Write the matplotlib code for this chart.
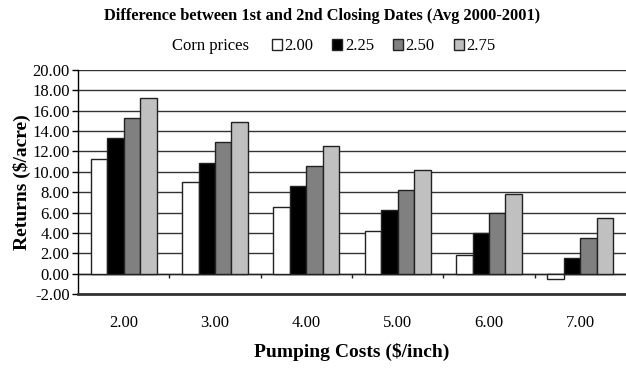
import numpy as np
import matplotlib.pyplot as plt

plt.rcParams['font.family'] = ['Liberation Serif', 'DejaVu Serif']

pump_costs = ['2.00', '3.00', '4.00', '5.00', '6.00', '7.00']
corn_prices = ['2.00', '2.25', '2.50', '2.75']
ret_200 = [11.3, 8.95, 6.54, 4.15, 1.86, -0.5]
ret_225 = [13.3, 10.9, 8.56, 6.24, 3.95, 1.54]
ret_250 = [15.3, 12.95, 10.6, 8.24, 5.91, 3.46]
ret_275 = [17.2, 14.87, 12.52, 10.16, 7.81, 5.49]

series = [ret_200, ret_225, ret_250, ret_275]
colors = ['white', 'black', '#808080', '#c0c0c0']

fig = plt.figure(figsize=(6.26, 3.68), dpi=100)
ax = fig.add_axes([0.1246, 0.201, 0.8754, 0.609])

x = np.arange(len(pump_costs))
w = 0.18
for k, vals in enumerate(series):
    ax.bar(x + (k - 1.5) * w, vals, w, color=colors[k], edgecolor='#222222',
           lw=1, label=corn_prices[k], zorder=3)

ax.set_xlim(-0.5, len(pump_costs) - 0.5)
ax.set_ylim(-2, 20)
yt = np.arange(-2, 21, 2)
ax.set_yticks(yt)
ax.set_yticklabels(['%.2f' % v for v in yt], fontsize=12)
ax.yaxis.grid(True, color='#333333', lw=1)
ax.set_axisbelow(True)
ax.tick_params(axis='y', length=4, width=1, pad=2)

ax.set_xticks(x)
ax.set_xticklabels(pump_costs, fontsize=12)
ax.tick_params(axis='x', length=0, pad=15)
# little marks between groups hanging under the zero line
ax.vlines(x[:-1] + 0.5, -0.45, 0, color='#222222', lw=1, zorder=2)
ax.axhline(0, color='#222222', lw=1, zorder=2)

for s in ['top', 'right']:
    ax.spines[s].set_visible(False)
ax.spines['bottom'].set_color('#333333')
ax.spines['bottom'].set_linewidth(2)
ax.spines['left'].set_linewidth(1)

ax.set_ylabel('Returns ($/acre)', fontsize=14, fontweight='bold', labelpad=1)
ax.set_xlabel('Pumping Costs ($/inch)', fontsize=14, fontweight='bold', labelpad=9)

fig.text(0.515, 0.957, 'Difference between 1st and 2nd Closing Dates (Avg 2000-2001)',
         ha='center', va='center', fontsize=11.8, fontweight='bold')
fig.text(0.397, 0.876, 'Corn prices', ha='right', va='center', fontsize=12)
fig.legend(loc='center left', bbox_to_anchor=(0.434, 0.874), ncol=4, frameon=False,
           fontsize=12, handlelength=0.6, handleheight=0.6, handletextpad=0.15,
           columnspacing=1.15, borderpad=0, borderaxespad=0)

fig.savefig('out.png', dpi=100)
